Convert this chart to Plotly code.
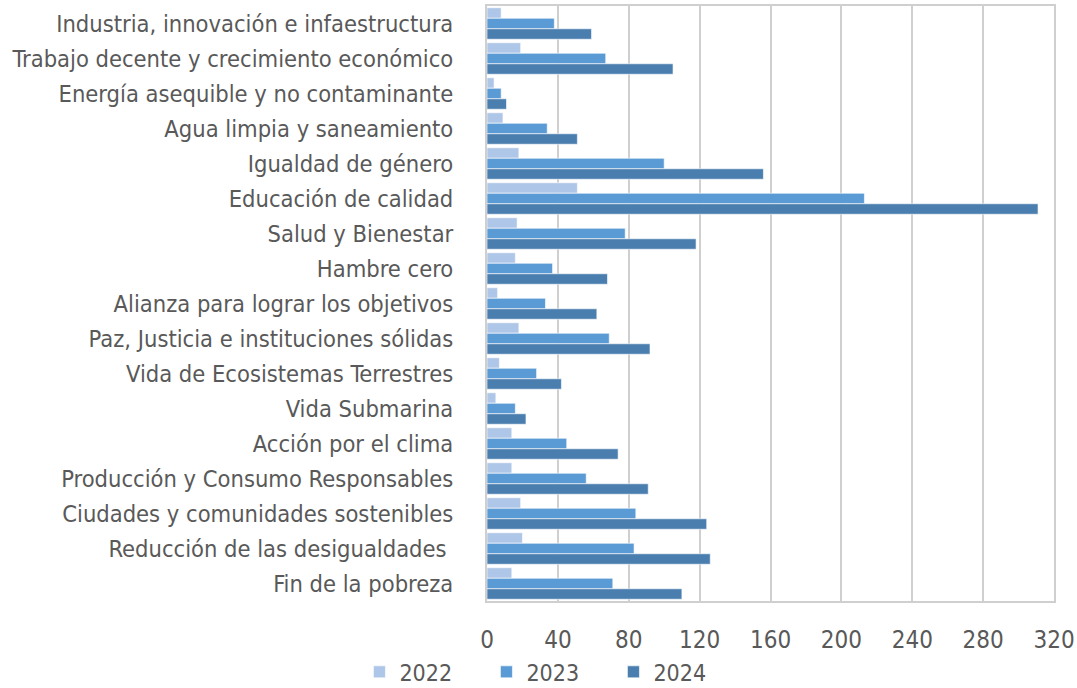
import plotly.graph_objects as go

categories = [
    "Industria, innovación e infaestructura",
    "Trabajo decente y crecimiento económico",
    "Energía asequible y no contaminante",
    "Agua limpia y saneamiento",
    "Igualdad de género",
    "Educación de calidad",
    "Salud y Bienestar",
    "Hambre cero",
    "Alianza para lograr los objetivos",
    "Paz, Justicia e instituciones sólidas",
    "Vida de Ecosistemas Terrestres",
    "Vida Submarina",
    "Acción por el clima",
    "Producción y Consumo Responsables",
    "Ciudades y comunidades sostenibles",
    "Reducción de las desigualdades ",
    "Fin de la pobreza",
]
v2022 = [8, 19, 4, 9, 18, 51, 17, 16, 6, 18, 7, 5, 14, 14, 19, 20, 14]
v2023 = [38, 67, 8, 34, 100, 213, 78, 37, 33, 69, 28, 16, 45, 56, 84, 83, 71]
v2024 = [59, 105, 11, 51, 156, 311, 118, 68, 62, 92, 42, 22, 74, 91, 124, 126, 110]
series_names = ["2022", "2023", "2024"]
colors = ["#AEC6E7", "#5B9BD5", "#4A7EAF"]
tick_vals = [0, 40, 80, 120, 160, 200, 240, 280, 320]

FONT = "DejaVu Sans Condensed, Roboto, sans-serif"

fig = go.Figure()
for name, vals, col in zip(series_names, [v2022, v2023, v2024], colors):
    fig.add_trace(go.Bar(
        y=categories, x=vals, name=name, orientation="h",
        marker=dict(color=col, line=dict(color="rgba(255,255,255,0.6)", width=1)),
    ))

fig.update_layout(
    width=1077, height=688,
    margin=dict(l=487, r=23, t=6, b=87, autoexpand=False),
    barmode="group", bargap=0.1, bargroupgap=0,
    plot_bgcolor="white", paper_bgcolor="white",
    font=dict(family=FONT, color="#595959", size=23),
    showlegend=True,
    legend=dict(orientation="h", x=-0.225, xanchor="left", y=-0.083, yanchor="top",
                font=dict(size=23, color="#595959"), traceorder="normal",
                itemwidth=30, entrywidth=82),
    xaxis=dict(range=[0, 320], tickvals=tick_vals, showgrid=True, gridcolor="#CFCFCF",
               gridwidth=2, zeroline=False, showline=True, linecolor="#CFCFCF", linewidth=2,
               mirror=True, ticks="outside", ticklen=16, tickcolor="rgba(0,0,0,0)",
               tickfont=dict(size=24, color="#595959"), automargin=False),
    yaxis=dict(autorange="reversed", showgrid=False, showline=True, linecolor="#CFCFCF",
               linewidth=2, mirror=True, ticks="outside", ticklen=27,
               tickcolor="rgba(0,0,0,0)", tickfont=dict(size=23.5, color="#595959"),
               automargin=False),
)

fig.write_html("out.html", config={"displayModeBar": False},
               post_script="document.body.style.margin='0';document.body.style.overflow='hidden';")
